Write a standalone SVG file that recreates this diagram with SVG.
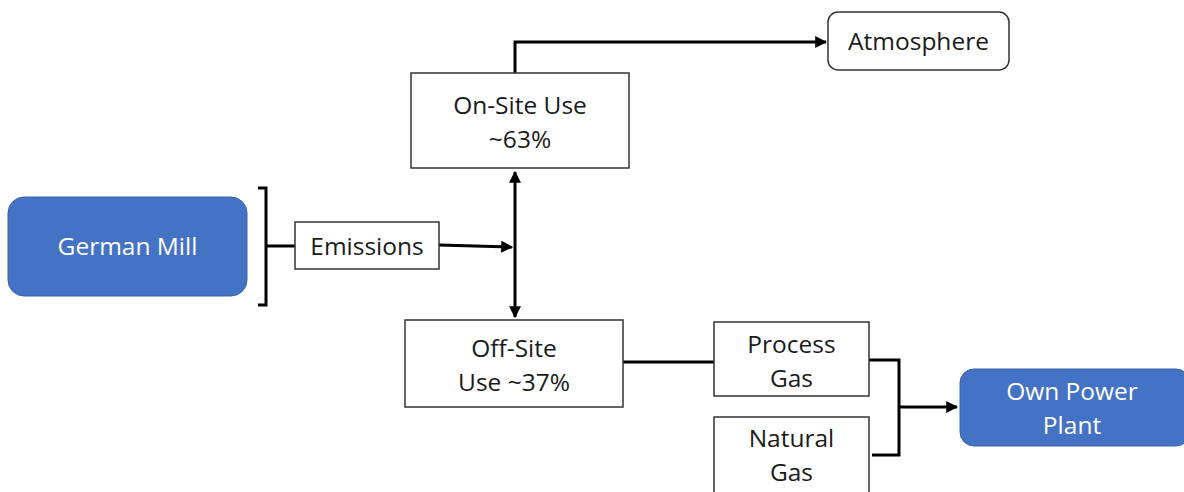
<svg xmlns="http://www.w3.org/2000/svg" width="1184" height="492" viewBox="0 0 1184 492">
<style>
.box{fill:#fff;stroke:#333;stroke-width:1.5}
.blue{fill:#4472C4;stroke:#3a63ad;stroke-width:1}
.t{font-family:"Open Sans","Liberation Sans",sans-serif;font-size:24.5px;fill:#1a1a1a;text-anchor:middle}
.tw{font-family:"Open Sans","Liberation Sans",sans-serif;font-size:24.5px;fill:#fff;text-anchor:middle}
.c{fill:none;stroke:#000;stroke-width:3}
</style>
<defs>
<marker id="ah" viewBox="0 0 10 10" refX="9" refY="5" markerWidth="4" markerHeight="4" orient="auto-start-reverse" markerUnits="strokeWidth">
<path d="M0,0 L10,5 L0,10 z" fill="#000"/>
</marker>
</defs>
<g id="connectors">
<path class="c" d="M258,188 H266 V305 H258"/>
<path class="c" d="M266,246 H296"/>
<path class="c" d="M439,245 L512,247" marker-end="url(#ah)"/>
<path class="c" d="M515,172 V317" marker-start="url(#ah)" marker-end="url(#ah)"/>
<path class="c" d="M515,73 V42 H826" marker-end="url(#ah)"/>
<path class="c" d="M623,362 H714"/>
<path class="c" d="M869,360 H899 V455 H872"/>
<path class="c" d="M899,407 H957" marker-end="url(#ah)"/>
</g>
<g id="german-mill">
<rect class="blue" x="8" y="197" width="239" height="99" rx="16"/>
<text class="tw" x="127.5" y="255">German Mill</text>
</g>
<g id="emissions">
<rect class="box" x="295" y="222" width="144" height="47"/>
<text class="t" x="367" y="255">Emissions</text>
</g>
<g id="on-site">
<rect class="box" x="411" y="73" width="218" height="95"/>
<text class="t" x="520" y="114">On-Site Use</text>
<text class="t" x="520" y="148">~63%</text>
</g>
<g id="atmosphere">
<rect class="box" x="828" y="12" width="181" height="58" rx="10"/>
<text class="t" x="918.5" y="50">Atmosphere</text>
</g>
<g id="off-site">
<rect class="box" x="405" y="320" width="218" height="87"/>
<text class="t" x="514" y="357">Off-Site</text>
<text class="t" x="514" y="391">Use ~37%</text>
</g>
<g id="process-gas">
<rect class="box" x="714" y="322" width="155" height="74"/>
<text class="t" x="791.5" y="353">Process</text>
<text class="t" x="791.5" y="387">Gas</text>
</g>
<g id="natural-gas">
<rect class="box" x="714" y="417" width="155" height="80"/>
<text class="t" x="791.5" y="447">Natural</text>
<text class="t" x="791.5" y="481">Gas</text>
</g>
<g id="own-power-plant">
<rect class="blue" x="960" y="369" width="230" height="77" rx="14"/>
<text class="tw" x="1072" y="400">Own Power</text>
<text class="tw" x="1072" y="434">Plant</text>
</g>
</svg>
